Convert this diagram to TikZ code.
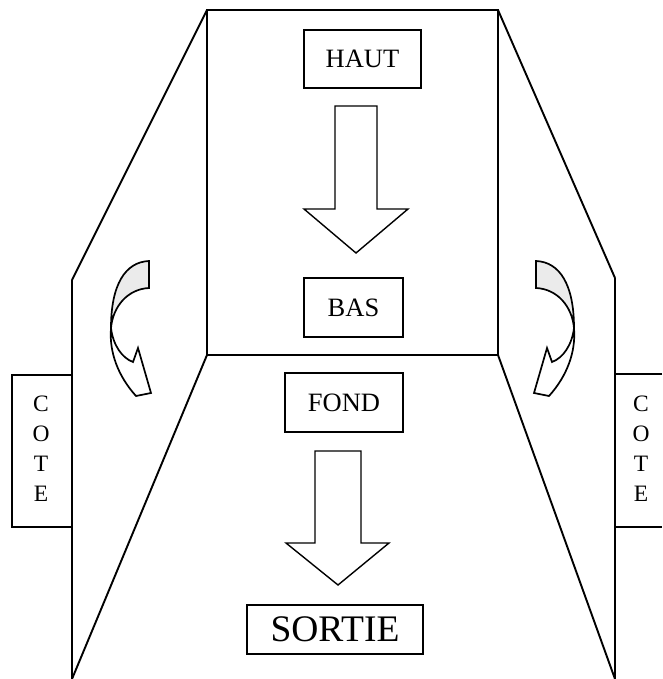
\documentclass[tikz,border=0pt]{standalone}
\usepackage{fontspec}
\setmainfont{Liberation Serif}
\begin{document}
\begin{tikzpicture}[x=1pt,y=-1pt,
  wall/.style={line width=1.5pt},
  flap/.style={line width=1.9pt, line join=miter},
  post/.style={line width=2.8pt},
  tag/.style={draw, line width=1.1pt, inner sep=0pt, font=\fontsize{26.5}{29}\selectfont},
  bigtag/.style={tag, font=\fontsize{37.5}{40}\selectfont},
  cotetext/.style={align=center, inner sep=0pt, font=\fontsize{23.5}{30}\selectfont},
  blockarrow/.style={draw, line width=1.4pt, fill=white, line join=miter},
  turnarrow/.style={draw, line width=1.7pt, fill=white, line join=miter},
  turnback/.style={turnarrow, fill=black!8},
]
\useasboundingbox (0,0) rectangle (662,679);

% back panel and floor edges
\coordinate (tl) at (207,10);
\coordinate (tr) at (498,10);
\coordinate (bl) at (207,355);
\coordinate (br) at (498,355);
\coordinate (lk) at (72,280);
\coordinate (rk) at (615,278);
\coordinate (lb) at (72,679);
\coordinate (rb) at (615,679);

\draw[wall] (tl) rectangle (br);
\draw[flap] (tl) -- (lk);
\draw[flap] (tr) -- (rk);
\draw[flap] (bl) -- (lb);
\draw[flap] (br) -- (rb);

% side labels
\node[draw, line width=1.1pt, minimum width=60pt, minimum height=152pt, inner sep=0pt] (coteL) at (42,451) {};
\node[cotetext] (coteLt) at (41,449) {C\\O\\T\\E};
\coordinate (cr1) at (662,374);
\coordinate (cr2) at (615,374);
\coordinate (cr3) at (615,527);
\coordinate (cr4) at (662,527);
\draw[line width=1.1pt] (cr1) -- (cr2) -- (cr3) -- (cr4);
\node[cotetext] (coteRt) at (641,449) {C\\O\\T\\E};

\draw[post] (lk) -- (lb);
\draw[post] (rk) -- (rb);

% labels on the panels
\node[tag, minimum width=117pt, minimum height=58pt] (haut) at (362.5,59) {HAUT};
\node[tag, minimum width=99pt, minimum height=59pt] (bas) at (353.5,307.5) {BAS};
\node[tag, minimum width=118pt, minimum height=59pt] (fond) at (344,402.5) {FOND};
\node[bigtag, minimum width=176pt, minimum height=49pt] (sortie) at (335,629.5) {SORTIE};

% block arrows
\draw[blockarrow] (335,106) -- (377,106) -- (377,209) -- (408,209) -- (356,253)
  -- (304,209) -- (335,209) -- cycle;
\draw[blockarrow] (315,451) -- (361,451) -- (361,543) -- (389,543) -- (338,585)
  -- (286,543) -- (315,543) -- cycle;

% curved ribbon arrows folding the sides in
\begin{scope}
  \coordinate (la) at (149,261);
  \coordinate (lbk) at (149,288);
  \coordinate (lc) at (111,328);
  \draw[turnback] (la) .. controls (125,262) and (111,285) .. (lc)
    .. controls (113,306) and (128,289) .. (lbk) -- cycle;
  \draw[turnarrow] (lc) .. controls (109,352) and (118,376) .. (136,396)
    -- (151,393) -- (138,348) -- (133,362)
    .. controls (122,358) and (113,345) .. (lc) -- cycle;
\end{scope}
\begin{scope}[xshift=685pt, xscale=-1]
  \coordinate (ra) at (149,261);
  \coordinate (rbk) at (149,288);
  \coordinate (rc) at (111,328);
  \draw[turnback] (ra) .. controls (125,262) and (111,285) .. (rc)
    .. controls (113,306) and (128,289) .. (rbk) -- cycle;
  \draw[turnarrow] (rc) .. controls (109,352) and (118,376) .. (136,396)
    -- (151,393) -- (138,348) -- (133,362)
    .. controls (122,358) and (113,345) .. (rc) -- cycle;
\end{scope}
\end{tikzpicture}
\end{document}
